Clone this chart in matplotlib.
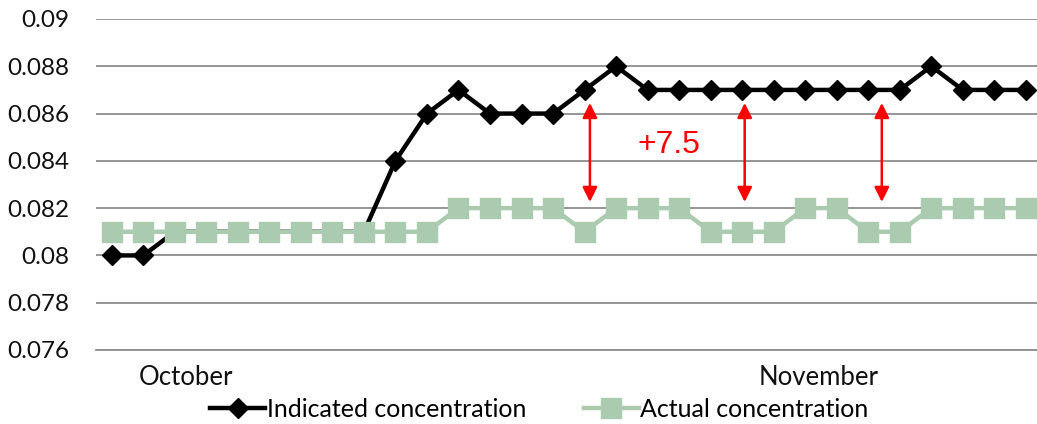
import matplotlib
matplotlib.use("Agg")
import matplotlib.pyplot as plt

indicated = [0.080, 0.080, 0.081, 0.081, 0.081, 0.081, 0.081, 0.081, 0.081, 0.084,
             0.086, 0.087, 0.086, 0.086, 0.086, 0.087, 0.088, 0.087, 0.087, 0.087,
             0.087, 0.087, 0.087, 0.087, 0.087, 0.087, 0.088, 0.087, 0.087, 0.087]
actual = [0.081, 0.081, 0.081, 0.081, 0.081, 0.081, 0.081, 0.081, 0.081, 0.081,
          0.081, 0.082, 0.082, 0.082, 0.082, 0.081, 0.082, 0.082, 0.082, 0.081,
          0.081, 0.081, 0.082, 0.082, 0.081, 0.081, 0.082, 0.082, 0.082, 0.082]
month_labels = ["October", "November"]
month_pos = [2.35, 22.43]
yticks = [0.076, 0.078, 0.08, 0.082, 0.084, 0.086, 0.088, 0.09]
ytick_labels = ["0.076", "0.078", "0.08", "0.082", "0.084", "0.086", "0.088", "0.09"]
arrow_x = [15.17, 20.08, 24.43]
arrow_top = 0.08645
arrow_bottom = 0.08226
annot_text = "+7.5"
annot_pos = (17.67, 0.08467)

x = list(range(len(indicated)))

fig = plt.figure(figsize=(10.37, 4.24), dpi=100)
ax = fig.add_axes([96/1037, 1-350/424, 1-96/1037, (350-19)/424])

ax.plot(x, indicated, color="black", lw=3.2, marker="D", markersize=10,
        label="Indicated concentration", zorder=3)
ax.plot(x, actual, color="#AACBAF", lw=3.2, marker="s", markersize=14,
        label="Actual concentration", zorder=4)

ax.set_xlim(-0.5, -0.5 + (1037-96)/31.52)
ax.set_ylim(0.076, 0.09)
ax.set_yticks(yticks)
ax.set_yticklabels(ytick_labels)
ax.set_xticks(month_pos)
ax.set_xticklabels(month_labels)
ax.tick_params(axis="x", length=0, pad=11)
ax.tick_params(axis="y", length=0, pad=19)
for lab in ax.get_xticklabels():
    lab.set_fontfamily("Lato")
    lab.set_fontsize(18.5)
    lab.set_color("#111111")
for lab in ax.get_yticklabels():
    lab.set_fontfamily("Lato")
    lab.set_fontsize(17.5)
    lab.set_color("#111111")
ax.grid(axis="y", color="#8c8c8c", lw=1.3)
ax.set_axisbelow(True)
for s in ["top", "right", "left"]:
    ax.spines[s].set_visible(False)
ax.spines["bottom"].set_color("#8c8c8c")
ax.spines["bottom"].set_linewidth(1.3)

for xa in arrow_x:
    ax.annotate("", xy=(xa, arrow_bottom), xytext=(xa, arrow_top),
                arrowprops=dict(arrowstyle="<|-|>", color="red", lw=1.8,
                                mutation_scale=22, shrinkA=0, shrinkB=0),
                zorder=5)
ax.text(annot_pos[0], annot_pos[1], annot_text, color="red", fontsize=23,
        family="Liberation Sans", ha="center", va="center")

leg = fig.legend(loc="lower center", bbox_to_anchor=(0.52, -0.045), ncol=2,
                 frameon=False, prop={"family": "Lato", "size": 18},
                 handlelength=2.2, handletextpad=0.05, columnspacing=2.3)
fig.savefig("out.png", dpi=100)
